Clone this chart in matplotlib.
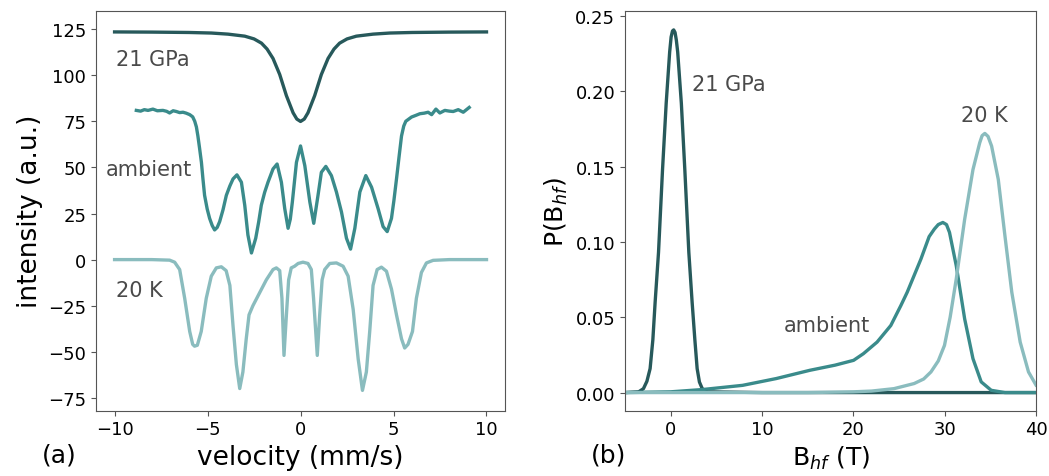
import matplotlib

matplotlib.use("Agg")
import matplotlib.pyplot as plt
from matplotlib.ticker import FormatStrFormatter

# ---- (a) Mossbauer spectra -------------------------------------------------
vel_21gpa = [-10.0, -8.0, -6.0, -4.8, -3.9, -3.0, -2.5, -2.1, -1.8, -1.48,
             -1.12, -0.76, -0.4, -0.2, 0.0, 0.2, 0.4, 0.76, 1.12, 1.48,
             1.8, 2.1, 2.5, 3.0, 3.9, 4.8, 6.0, 8.0, 10.0]
int_21gpa = [123.6, 123.5, 123.3, 123.0, 122.4, 121.3, 119.8, 117.5, 114.3, 109.2,
             100.5, 89.0, 79.7, 76.3, 75.0, 76.3, 79.7, 89.0, 100.5, 109.2,
             114.3, 117.5, 119.8, 121.3, 122.4, 123.0, 123.3, 123.5, 123.6]

vel_amb = [-8.83, -8.6, -8.4, -8.2, -7.94, -7.7, -7.4, -7.2, -7.04, -6.85,
           -6.68, -6.5, -6.32, -6.15, -5.96, -5.8, -5.69, -5.6, -5.52, -5.43,
           -5.33, -5.25, -5.16, -5.02, -4.89, -4.75, -4.62, -4.48, -4.35, -4.17,
           -3.99, -3.8, -3.63, -3.42, -3.18, -3.0, -2.83, -2.64, -2.41, -2.25,
           -2.11, -1.93, -1.75, -1.48, -1.26, -1.03, -0.85, -0.67, -0.55, -0.44,
           -0.22, 0.0, 0.23, 0.5, 0.71, 0.94, 1.12, 1.36, 1.66, 1.93,
           2.2, 2.47, 2.69, 2.92, 3.19, 3.51, 3.82, 4.17, 4.44, 4.66,
           4.89, 5.02, 5.16, 5.3, 5.43, 5.55, 5.66, 5.97, 6.2, 6.42,
           6.65, 6.86, 7.05, 7.28, 7.49, 7.76, 8.0, 8.21, 8.48, 8.75,
           9.07]
int_amb = [81.0, 80.6, 81.4, 81.0, 81.7, 80.8, 81.0, 80.5, 79.6, 80.8,
           80.4, 79.8, 80.0, 79.5, 78.7, 77.5, 75.1, 72.0, 67.1, 60.5,
           52.8, 44.0, 34.9, 27.5, 22.4, 18.5, 16.1, 17.5, 20.6, 27.0,
           34.9, 40.0, 43.8, 46.0, 42.0, 29.5, 13.4, 3.6, 11.6, 20.5,
           29.5, 36.5, 42.0, 49.2, 51.9, 42.0, 27.7, 17.0, 22.0, 31.3,
           52.8, 61.7, 51.0, 31.3, 19.7, 34.9, 47.4, 50.6, 45.6, 36.7,
           25.9, 11.6, 5.7, 17.0, 36.7, 45.6, 39.3, 27.7, 17.9, 15.2,
           22.4, 32.0, 43.8, 56.0, 67.1, 72.5, 75.1, 77.4, 78.3, 79.2,
           79.5, 80.0, 78.7, 81.7, 79.6, 81.0, 80.6, 80.4, 81.4, 80.0,
           82.6]

vel_20k = [-10.0, -8.0, -7.04, -6.77, -6.5, -6.23, -5.96, -5.8, -5.7, -5.55,
           -5.34, -5.07, -4.8, -4.53, -4.26, -4.0, -3.8, -3.63, -3.45, -3.27,
           -3.1, -2.92, -2.77, -2.56, -2.2, -1.84, -1.48, -1.3, -1.12, -1.0,
           -0.89, -0.76, -0.64, -0.5, -0.32, -0.13, 0.13, 0.4, 0.58, 0.7,
           0.9, 1.03, 1.16, 1.3, 1.57, 1.93, 2.29, 2.56, 2.83, 3.1,
           3.33, 3.54, 3.72, 3.9, 4.12, 4.35, 4.62, 4.89, 5.16, 5.43,
           5.6, 5.78, 6.02, 6.23, 6.5, 6.77, 7.13, 8.0, 10.0]
int_20k = [0.0, 0.0, -0.3, -1.4, -5.4, -21.0, -39.0, -46.0, -47.0, -46.5,
           -39.0, -21.0, -9.0, -4.5, -3.9, -6.0, -14.0, -36.0, -57.0, -70.0,
           -61.0, -43.0, -30.0, -25.0, -18.0, -11.0, -5.4, -4.5, -6.0, -21.0,
           -52.0, -30.0, -11.0, -4.5, -3.6, -2.1, -1.4, -2.1, -5.4, -21.0,
           -52.0, -30.0, -11.0, -5.4, -2.1, -1.8, -3.6, -9.0, -27.0, -54.0,
           -71.0, -61.0, -39.0, -14.0, -5.4, -4.1, -6.3, -16.0, -30.0, -43.0,
           -48.0, -46.0, -39.0, -21.0, -7.0, -1.8, -0.4, 0.0, 0.0]

# ---- (b) hyperfine field distributions -------------------------------------
b_21gpa = [-5.0, -3.5, -2.98, -2.6, -2.25, -1.95, -1.7, -1.33, -0.89, -0.49,
           -0.11, 0.05, 0.2, 0.33, 0.48, 0.62, 0.77, 1.17, 1.55, 1.99,
           2.35, 2.65, 2.9, 3.15, 3.46, 4.0, 10.0, 20.0, 30.0, 40.0]
p_21gpa = [0.0, 0.0005, 0.0026, 0.0075, 0.0159, 0.035, 0.060, 0.093, 0.148, 0.192,
           0.226, 0.236, 0.240, 0.2407, 0.239, 0.234, 0.226, 0.192, 0.148, 0.093,
           0.060, 0.035, 0.0159, 0.007, 0.0026, 0.0005, 0.0, 0.0, 0.0, 0.0]

b_amb = [-5.0, 0.0, 3.46, 7.88, 11.56, 15.25, 18.0, 20.03, 21.1, 22.6,
         24.1, 25.2, 25.9, 27.4, 28.3, 28.87, 29.3, 29.8, 30.2, 30.53,
         31.27, 32.19, 33.1, 34.0, 35.1, 36.6, 40.0]
p_amb = [0.0, 0.0005, 0.002, 0.0048, 0.0093, 0.0148, 0.0182, 0.0214, 0.0258, 0.0335,
         0.0445, 0.0577, 0.0666, 0.0886, 0.1035, 0.1085, 0.1115, 0.1129, 0.1115, 0.1063,
         0.0842, 0.0489, 0.0225, 0.0071, 0.0015, 0.0, 0.0]

b_20k = [-5.0, 15.0, 20.0, 22.0, 24.45, 26.66, 27.7, 28.5, 29.3, 29.98,
         30.6, 31.27, 32.19, 33.1, 33.84, 34.1, 34.4, 34.75, 35.14, 35.87,
         36.6, 37.35, 38.27, 39.18, 40.0]
p_20k = [0.0, 0.0, 0.0005, 0.001, 0.0026, 0.006, 0.009, 0.0137, 0.021, 0.0313,
         0.050, 0.0754, 0.115, 0.148, 0.1658, 0.1705, 0.172, 0.170, 0.1636, 0.1415,
         0.104, 0.0666, 0.0335, 0.0137, 0.005]

c_dark = "#27595b"
c_mid = "#3a8b8b"
c_light = "#8abcbe"
c_text = "#4a4a4a"
c_spine = "#555555"
lw = 2.4

fig = plt.figure(figsize=(10.49, 4.77), dpi=100)
ax1 = fig.add_axes([0.0915, 0.137, 0.3900, 0.838])
ax2 = fig.add_axes([0.5958, 0.137, 0.3918, 0.838])

ax1.plot(vel_21gpa, int_21gpa, color=c_dark, lw=lw)
ax1.plot(vel_amb, int_amb, color=c_mid, lw=lw)
ax1.plot(vel_20k, int_20k, color=c_light, lw=lw)
ax1.set_xlim(-11, 11)
ax1.set_ylim(-82, 135)
ax1.set_xticks([-10, -5, 0, 5, 10])
ax1.set_yticks([-75, -50, -25, 0, 25, 50, 75, 100, 125])
ax1.set_xlabel("velocity (mm/s)", fontsize=19)
ax1.set_ylabel("intensity (a.u.)", fontsize=19)
ax1.text(-9.95, 109, "21 GPa", fontsize=15, color=c_text, va="center")
ax1.text(-10.5, 49.4, "ambient", fontsize=15, color=c_text, va="center")
ax1.text(-9.95, -16.6, "20 K", fontsize=15, color=c_text, va="center")

ax2.plot(b_21gpa, p_21gpa, color=c_dark, lw=lw)
ax2.plot(b_amb, p_amb, color=c_mid, lw=lw)
ax2.plot(b_20k, p_20k, color=c_light, lw=lw)
ax2.set_xlim(-5, 40)
ax2.set_ylim(-0.012, 0.2533)
ax2.set_xticks([0, 10, 20, 30, 40])
ax2.set_yticks([0.0, 0.05, 0.10, 0.15, 0.20, 0.25])
ax2.yaxis.set_major_formatter(FormatStrFormatter("%.2f"))
ax2.set_xlabel("B$_{hf}$ (T)", fontsize=18)
ax2.set_ylabel("P(B$_{hf}$)", fontsize=18)
ax2.text(2.35, 0.205, "21 GPa", fontsize=15, color=c_text, va="center")
ax2.text(12.4, 0.045, "ambient", fontsize=15, color=c_text, va="center")
ax2.text(31.8, 0.1845, "20 K", fontsize=15, color=c_text, va="center")

for ax in (ax1, ax2):
    for sp in ax.spines.values():
        sp.set_color(c_spine)
    ax.tick_params(labelsize=13, color=c_spine)

fig.text(0.040, 0.03, "(a)", fontsize=18)
fig.text(0.563, 0.03, "(b)", fontsize=18)

fig.savefig("out.png", dpi=100, facecolor="white")
